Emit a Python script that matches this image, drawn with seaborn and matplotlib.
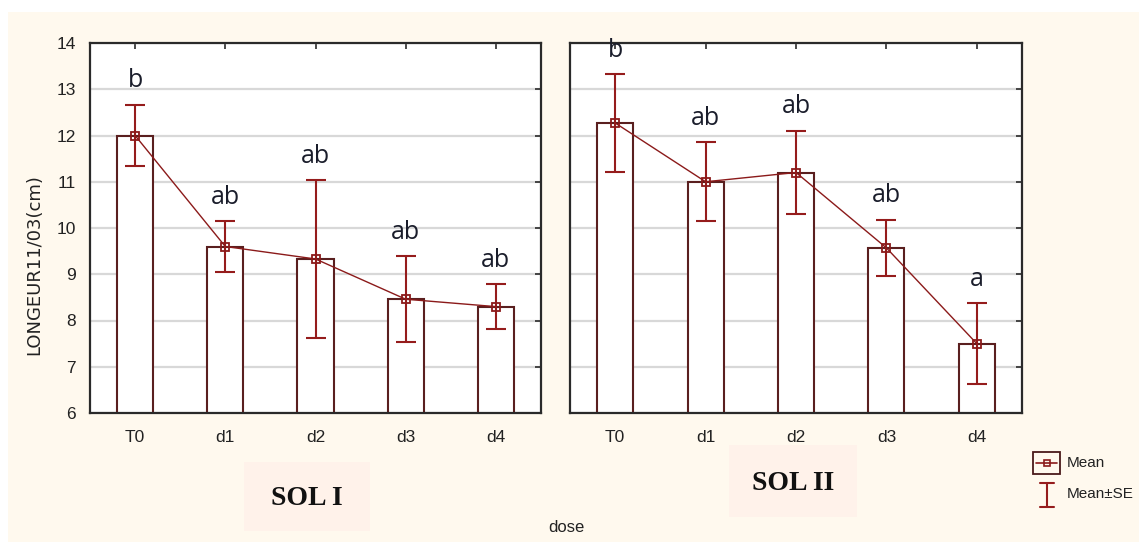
import numpy as np
import pandas as pd
import matplotlib
matplotlib.use("Agg")
import matplotlib.pyplot as plt
import seaborn as sns
from matplotlib.patches import Rectangle
from matplotlib.lines import Line2D

# ---------------- data ----------------
doses = ["T0", "d1", "d2", "d3", "d4"]
sol1_mean = [12.00, 9.60, 9.33, 8.46, 8.30]
sol1_se = [0.66, 0.55, 1.70, 0.93, 0.48]
sol1_letters = ["b", "ab", "ab", "ab", "ab"]
sol2_mean = [12.27, 11.00, 11.20, 9.57, 7.50]
sol2_se = [1.05, 0.85, 0.90, 0.61, 0.87]
sol2_letters = ["b", "ab", "ab", "ab", "a"]
panel_titles = ["SOL I", "SOL II"]
y_ticks = [6, 7, 8, 9, 10, 11, 12, 13, 14]

# ---------------- style ----------------
sns.set_style("white")
plt.rcParams["font.family"] = ["Liberation Sans", "DejaVu Sans"]

W, H = 1139, 542
fig = plt.figure(figsize=(W / 100, H / 100), dpi=100)
fig.patch.set_facecolor("white")
cream = "#FFF9EE"
fig.add_artist(Rectangle((8 / W, 0), 1, 1 - 12 / H, transform=fig.transFigure,
                         facecolor=cream, edgecolor="none", zorder=-10))

bar_edge = "#5a1f1f"
err_col = "#951c1c"
line_col = "#8b1a1a"
txt_col = "#1a1d2b"


def fx(px):
    return px / W


def fy(py):
    return 1 - py / H


ax_bottom = fy(413)
ax_h = (413 - 43) / H
axes = [fig.add_axes([fx(90), ax_bottom, (541 - 90) / W, ax_h]),
        fig.add_axes([fx(570), ax_bottom, (1022 - 570) / W, ax_h])]

panels = [(sol1_mean, sol1_se, sol1_letters), (sol2_mean, sol2_se, sol2_letters)]

for i, (ax, (m, se, letters)) in enumerate(zip(axes, panels)):
    df = pd.DataFrame({"dose": doses, "mean": m, "se": se})
    ax.set_facecolor("white")
    ax.set_axisbelow(True)
    ax.yaxis.grid(True, color="#d8d8d8", linewidth=1.6)
    sns.barplot(data=df, x="dose", y="mean", color="white", edgecolor=bar_edge,
                linewidth=1.5, width=0.4, errorbar=None, ax=ax, zorder=2)
    xs = np.arange(len(doses))
    ax.errorbar(xs, df["mean"], yerr=df["se"], fmt="none", ecolor=err_col,
                elinewidth=1.5, capsize=7, capthick=1.5, zorder=4)
    sns.lineplot(x=xs, y=df["mean"], ax=ax, color=line_col, linewidth=1.0,
                 marker="s", markersize=6, markerfacecolor="none",
                 markeredgecolor=line_col, markeredgewidth=1.3, zorder=5)
    for xv, mv, sv, lt in zip(xs, m, se, letters):
        ax.text(xv, mv + sv + 0.25, lt, ha="center", va="bottom",
                fontsize=18, color=txt_col, family=["Open Sans", "DejaVu Sans"], zorder=6)
    ax.set_ylim(6, 14)
    ax.set_xlim(-0.5, len(doses) - 0.5)
    ax.set_yticks(y_ticks)
    ax.set_xlabel("")
    ax.set_ylabel("")
    for s in ax.spines.values():
        s.set_visible(True)
        s.set_color("#2a2a2a")
        s.set_linewidth(1.6)
    ax.tick_params(axis="both", direction="in", length=4, width=1.2, color="#2a2a2a",
                   top=True, right=True, labelsize=12.5, labelcolor="#222222")
    ax.tick_params(axis="x", pad=12)
    ax.tick_params(axis="y", pad=10)
    if i == 1:
        ax.tick_params(axis="y", labelleft=False)

# y label
fig.text(fx(34), fy(265), "LONGEUR11/03(cm)", rotation=90, ha="center", va="center",
         fontsize=13, color="#222222", family=["DejaVu Sans"])

# x label
fig.text(fx(566), fy(528), "dose", ha="center", va="center", fontsize=12, color="#222222")

# panel title boxes
boxes = [(244, 462, 370, 531), (729, 445, 857, 517)]
for (x0, y0, x1, y1), t in zip(boxes, panel_titles):
    fig.add_artist(Rectangle((fx(x0), fy(y1)), (x1 - x0) / W, (y1 - y0) / H,
                             transform=fig.transFigure, facecolor="#FFF2EA",
                             edgecolor="none", zorder=-5))
    fig.text(fx((x0 + x1) / 2), fy((y0 + y1) / 2 + 2), t, ha="center", va="center",
             fontsize=20, fontweight="bold", family=["Liberation Serif", "DejaVu Serif"],
             color="#111111")

# legend (drawn manually)
fig.add_artist(Rectangle((fx(1033), fy(474)), 27 / W, 22 / H, transform=fig.transFigure,
                         facecolor="none", edgecolor="#4a1a1a", linewidth=1.3))
fig.add_artist(Line2D([fx(1036), fx(1057)], [fy(463), fy(463)], transform=fig.transFigure,
                      color=line_col, linewidth=1.2))
fig.add_artist(Line2D([fx(1046.5)], [fy(463)], transform=fig.transFigure,
                      color=line_col, marker="s", markersize=5, markerfacecolor="none",
                      markeredgewidth=1.2, linestyle="none"))
fig.add_artist(Line2D([fx(1047), fx(1047)], [fy(483), fy(507)], transform=fig.transFigure,
                      color=err_col, linewidth=1.5))
fig.add_artist(Line2D([fx(1040), fx(1054)], [fy(483), fy(483)], transform=fig.transFigure,
                      color=err_col, linewidth=1.5))
fig.add_artist(Line2D([fx(1040), fx(1054)], [fy(507), fy(507)], transform=fig.transFigure,
                      color=err_col, linewidth=1.5))
fig.text(fx(1067), fy(463), "Mean", ha="left", va="center", fontsize=11, color="#222222")
fig.text(fx(1067), fy(494), "Mean\u00b1SE", ha="left", va="center", fontsize=11, color="#222222")

fig.savefig("out.png", dpi=100, facecolor=fig.get_facecolor())
